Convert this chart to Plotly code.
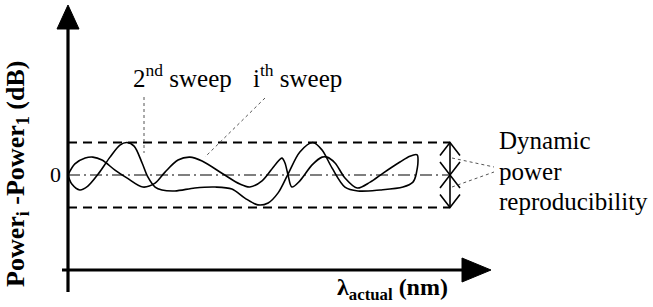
import plotly.graph_objects as go

# ---- data (schematic units: x = wavelength index 0..100, y = dB, band = +/-1) ----
sweep2_x = [0, 1.0, 3.1, 5.2, 7.9, 11.0, 13.6, 15.4, 17.3, 19.4, 20.9, 22.8, 24.6, 28.0, 33.2, 38.5,
            42.9, 46.3, 49.7, 52.4, 55.0, 57.6, 60.7, 64.1, 66.5, 69.1, 72.5, 75.9, 81.7, 87.7, 90.3, 91.1]
sweep2_y = [0, -0.28, -0.46, -0.34, 0.03, 0.55, 0.92, 1.0, 0.89, 0.37, -0.06, -0.37, -0.46, -0.49, -0.40, -0.37,
            -0.43, -0.71, -0.92, -0.86, -0.55, 0.03, 0.71, 1.0, 0.77, 0.22, -0.37, -0.49, -0.46, -0.37, -0.22, 0]

sweepi_x = [0, 1.8, 4.5, 6.5, 8.9, 12.3, 15.4, 19.6, 22.8, 25.4, 28.8, 31.9, 35.1, 40.6, 45.0, 47.6,
            50.8, 54.2, 56.0, 56.8, 57.6, 58.6, 60.7, 63.9, 66.5, 67.8, 69.9, 72.5, 75.7, 79.1, 82.5, 86.9,
            89.5, 91.4, 91.6, 91.1]
sweepi_y = [0, 0.34, 0.52, 0.55, 0.46, 0.15, -0.09, -0.37, -0.25, 0.09, 0.46, 0.55, 0.43, 0.03, -0.28, -0.37,
            -0.18, 0.31, 0.52, 0.37, 0, -0.37, -0.18, 0.31, 0.55, 0.55, 0.37, -0.09, -0.40, -0.22, 0.06, 0.40,
            0.58, 0.62, 0.37, 0]

band_limits = [1.0, -1.0]
band_end = 100
zero_label = "0"

# ---- pixel mapping helpers (layout only) ----
W, H = 653, 307
X0, SX = 68.0, 3.82   # pixel of x=0, px per unit
Y0, SY = 175.0, 32.5  # pixel of y=0, px per unit

def dx(px):
    return (px - X0) / SX

def dy(py):
    return (Y0 - py) / SY

fig = go.Figure()

for xs, ys in [(sweep2_x, sweep2_y), (sweepi_x, sweepi_y)]:
    fig.add_trace(go.Scatter(x=xs, y=ys, mode="lines",
                             line=dict(color="black", width=1.6, shape="spline", smoothing=0.9),
                             showlegend=False, hoverinfo="skip"))

shapes = []
for lim in band_limits:
    shapes.append(dict(type="line", xref="x", yref="y", x0=0, x1=band_end, y0=lim, y1=lim,
                       line=dict(color="black", width=2.2, dash="9px,6px")))
shapes.append(dict(type="line", xref="x", yref="y", x0=0, x1=band_end, y0=0, y1=0,
                   line=dict(color="black", width=1.1, dash="12px,4px,2px,4px")))
shapes.append(dict(type="line", xref="x", yref="y", x0=0, x1=0, y0=dy(292), y1=dy(27),
                   line=dict(color="black", width=3.2)))
shapes.append(dict(type="line", xref="x", yref="y", x0=dx(62), x1=dx(465), y0=dy(270), y1=dy(270),
                   line=dict(color="black", width=3.2)))
shapes.append(dict(type="path", xref="x", yref="y",
                   path=f"M {dx(68)},{dy(5)} L {dx(57)},{dy(29)} L {dx(79)},{dy(29)} Z",
                   fillcolor="black", line=dict(color="black", width=1)))
shapes.append(dict(type="path", xref="x", yref="y",
                   path=f"M {dx(491)},{dy(270)} L {dx(462)},{dy(258)} L {dx(462)},{dy(282)} Z",
                   fillcolor="black", line=dict(color="black", width=1)))
bx = band_end
shapes.append(dict(type="line", xref="x", yref="y", x0=bx, x1=bx, y0=band_limits[0], y1=band_limits[1],
                   line=dict(color="black", width=1.6)))
hw, hh = 10 / SX, 13 / SY
for tip, direction in [(band_limits[0], -1), (0, 1), (0, -1), (band_limits[1], 1)]:
    shapes.append(dict(type="path", xref="x", yref="y",
                       path=f"M {bx - hw},{tip + direction * hh} L {bx},{tip} L {bx + hw},{tip + direction * hh}",
                       line=dict(color="black", width=1.6)))
dot = dict(color="#555555", width=1, dash="dot")
shapes.append(dict(type="line", xref="x", yref="y", x0=dx(452), y0=dy(158), x1=dx(494), y1=dy(167), line=dot))
shapes.append(dict(type="line", xref="x", yref="y", x0=dx(452), y0=dy(187), x1=dx(494), y1=dy(172), line=dot))
shapes.append(dict(type="line", xref="x", yref="y", x0=dx(144), y0=dy(97), x1=dx(144), y1=dy(153), line=dot))
shapes.append(dict(type="line", xref="x", yref="y", x0=dx(265), y0=dy(98), x1=dx(205), y1=dy(157), line=dot))

serif = "Liberation Serif, Times New Roman, serif"
ann = []
def text(px, py, s, size=22, xanchor="left", yanchor="middle", angle=0):
    ann.append(dict(x=dx(px), y=dy(py), xref="x", yref="y", text=s, showarrow=False,
                    xanchor=xanchor, yanchor=yanchor, textangle=angle,
                    font=dict(family=serif, size=size, color="black")))

text(131, 76, "2<sup>nd</sup> sweep", size=25)
text(251, 76, "i<sup>th</sup> sweep", size=25)
text(497, 140, "Dynamic", size=25)
text(497, 171, "power", size=25)
text(497, 201, "reproducibility", size=25)
text(63, 174, zero_label, size=22, xanchor="right")
text(335, 289, "<b>λ<sub>actual</sub> (nm)</b>", size=24)
text(17, 174, "<b>Power<sub>i</sub> -Power<sub>1</sub> (dB)</b>", size=26, xanchor="center", angle=-90)

fig.update_layout(
    width=W, height=H, margin=dict(l=0, r=0, t=0, b=0),
    paper_bgcolor="white", plot_bgcolor="white",
    font=dict(family=serif),
    xaxis=dict(range=[dx(0), dx(W)], visible=False, fixedrange=True),
    yaxis=dict(range=[dy(H), dy(0)], visible=False, fixedrange=True),
    shapes=shapes, annotations=ann, showlegend=False,
)
fig.write_html("out.html", config={"displayModeBar": False})

with open("out.html", encoding="utf-8") as f:
    html = f.read()
html = html.replace("<head>", "<head><style>html,body{margin:0;padding:0;overflow:hidden;}</style>", 1)
with open("out.html", "w", encoding="utf-8") as f:
    f.write(html)
